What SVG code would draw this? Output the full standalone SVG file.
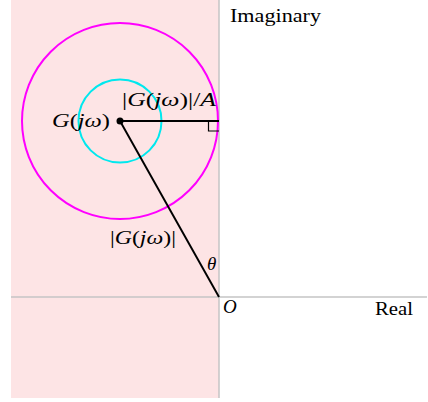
<svg xmlns="http://www.w3.org/2000/svg" width="428" height="402" viewBox="0 0 428 402">
<style>
.t{font-family:"Liberation Serif","Times New Roman",serif;font-size:19px;fill:#000}
.i{font-style:italic}
.axis{stroke:#c4c4c4;stroke-width:1.5;fill:none}
.blk{stroke:#000;stroke-width:2;fill:none}
</style>
<rect x="0" y="0" width="428" height="402" fill="#fff"/>
<g id="region"><rect x="11" y="0" width="208" height="398" fill="#fde4e5"/></g>
<g id="axes">
<line class="axis" x1="219" y1="0" x2="219" y2="398"/>
<line class="axis" x1="11" y1="297" x2="427" y2="297"/>
</g>
<g id="circles">
<circle cx="120" cy="121" r="98" fill="none" stroke="#ff00ff" stroke-width="2"/>
<circle cx="120" cy="121" r="41.5" fill="none" stroke="#00e8ee" stroke-width="2"/>
</g>
<g id="connectors">
<line class="blk" x1="120" y1="121" x2="219" y2="121"/>
<line class="blk" x1="120" y1="121" x2="219" y2="297"/>
<polyline fill="none" stroke="#000" stroke-width="1.2" points="208.5,121 208.5,131 219,131"/>
</g>
<g id="center"><circle cx="120" cy="121" r="3.5" fill="#000"/></g>
<g id="labels">
<text class="t" x="230" y="22" textLength="91" lengthAdjust="spacingAndGlyphs">Imaginary</text>
<text class="t" x="375" y="315" textLength="38" lengthAdjust="spacingAndGlyphs">Real</text>
<text class="t i" x="223" y="313">O</text>
<text class="t i" x="207" y="270">θ</text>
<text class="t" x="52" y="127" textLength="58" lengthAdjust="spacingAndGlyphs"><tspan class="i">G</tspan>(<tspan class="i">jω</tspan>)</text>
<text class="t" x="110" y="244" textLength="66" lengthAdjust="spacingAndGlyphs">|<tspan class="i">G</tspan>(<tspan class="i">jω</tspan>)|</text>
<text class="t" x="122" y="106" textLength="94" lengthAdjust="spacingAndGlyphs">|<tspan class="i">G</tspan>(<tspan class="i">jω</tspan>)|/<tspan class="i">A</tspan></text>
</g>
</svg>
